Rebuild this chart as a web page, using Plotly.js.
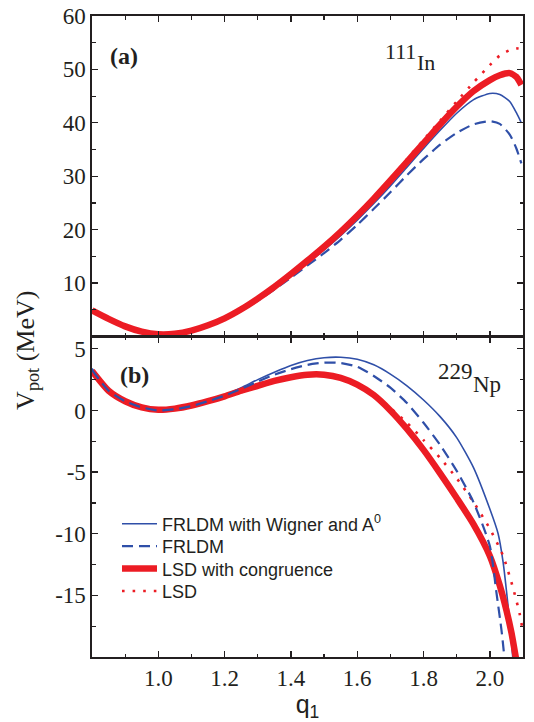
<!DOCTYPE html>
<html>
<head>
<meta charset="utf-8">
<script src="https://cdn.plot.ly/plotly-3.0.1.min.js"></script>
<style>html,body{margin:0;padding:0;background:#fff;}#chart{width:534px;height:722px;}</style>
</head>
<body>
<div id="chart"></div>
<script>
// ---------- Panel (a): 111In ----------
const qA = [0.8,0.85,0.9,0.95,1.0,1.05,1.1,1.15,1.2,1.25,1.3,1.35,1.4,1.45,1.5,1.55,1.6,1.65,1.7,1.75,1.8,1.85,1.9,1.95,2.0,2.03,2.06,2.08,2.095];
const frldmWignerA = [4.9,3.3,1.9,0.9,0.4,0.5,1.1,2.0,3.3,4.9,6.9,9.0,11.3,13.7,16.2,18.9,21.8,24.9,28.2,31.7,35.2,38.6,41.8,44.3,45.5,45.3,44.0,41.9,40.0];
const frldmA       = [4.9,3.3,1.9,0.9,0.4,0.5,1.1,2.0,3.2,4.8,6.7,8.8,11.0,13.3,15.6,18.1,20.9,23.9,27.0,30.2,33.2,35.9,38.1,39.7,40.3,39.8,37.8,35.2,32.4];
const lsdCongA     = [4.9,3.3,1.9,0.9,0.4,0.5,1.1,2.1,3.4,5.1,7.1,9.3,11.7,14.2,16.8,19.6,22.6,25.8,29.2,32.7,36.2,39.7,43.0,45.9,48.0,48.9,49.3,48.6,47.1];
const lsdA         = [4.9,3.3,1.9,0.9,0.4,0.5,1.1,2.1,3.4,5.1,7.1,9.3,11.7,14.2,16.8,19.6,22.6,25.8,29.5,33.2,36.8,40.4,44.0,47.5,50.8,52.6,53.6,53.9,54.0];

// ---------- Panel (b): 229Np ----------
const qWignerB = [0.8,0.85,0.9,0.95,1.0,1.05,1.1,1.15,1.2,1.25,1.3,1.35,1.4,1.45,1.5,1.55,1.6,1.65,1.7,1.75,1.8,1.85,1.9,1.95,2.0,2.025,2.04,2.05,2.06,2.07];
const frldmWignerB = [3.4,1.7,0.8,0.25,0.0,0.1,0.35,0.75,1.25,1.85,2.5,3.1,3.65,4.05,4.28,4.32,4.15,3.7,2.95,2.0,0.85,-0.5,-2.2,-4.6,-8.0,-10.0,-12.3,-14.6,-17.2,-20.3];
const qFrldmB = [0.8,0.85,0.9,0.95,1.0,1.05,1.1,1.15,1.2,1.25,1.3,1.35,1.4,1.45,1.5,1.55,1.6,1.65,1.7,1.75,1.8,1.85,1.9,1.95,2.0,2.02,2.035,2.045];
const frldmB = [3.3,1.6,0.75,0.25,0.0,0.1,0.35,0.75,1.2,1.75,2.35,2.9,3.35,3.7,3.88,3.85,3.55,2.8,1.85,0.6,-1.0,-2.8,-4.9,-7.4,-11.0,-14.8,-17.8,-20.3];
const qCongB = [0.8,0.85,0.9,0.95,1.0,1.05,1.1,1.15,1.2,1.25,1.3,1.35,1.4,1.45,1.5,1.55,1.6,1.65,1.7,1.75,1.8,1.85,1.9,1.95,2.0,2.03,2.05,2.065,2.08];
const lsdCongB = [3.2,1.6,0.75,0.25,0.05,0.15,0.4,0.75,1.15,1.6,2.0,2.4,2.7,2.9,2.9,2.65,2.1,1.25,0.0,-1.5,-3.2,-5.1,-7.1,-9.2,-11.8,-14.2,-16.2,-18.0,-20.3];
const qLsdB = [0.8,0.85,0.9,0.95,1.0,1.05,1.1,1.15,1.2,1.25,1.3,1.35,1.4,1.45,1.5,1.55,1.6,1.65,1.7,1.75,1.8,1.85,1.9,1.95,2.0,2.04,2.07,2.09,2.1];
const lsdB = [3.2,1.6,0.75,0.25,0.05,0.15,0.4,0.75,1.15,1.6,2.0,2.4,2.7,2.9,2.9,2.65,2.1,1.3,0.2,-1.0,-2.4,-3.85,-5.5,-7.4,-9.6,-11.8,-14.4,-16.5,-18.0];

// ---------- Labels ----------
const seriesNames = ['FRLDM with Wigner and A<sup>0</sup>', 'FRLDM', 'LSD with congruence', 'LSD'];
const xTickVals = [1.0,1.2,1.4,1.6,1.8,2.0];
const xTickText = ['1.0','1.2','1.4','1.6','1.8','2.0'];
const yTickValsA = [10,20,30,40,50,60];
const yTickValsB = [-15,-10,-5,0,5];
const yTickTextB = ['-15','-10','-5','0','5'];

const BLUE = '#2f4fa8';
const RED = '#ec1c24';
const styles = [
  {color: BLUE, width: 1.6, dash: 'solid'},
  {color: BLUE, width: 2.2, dash: '11px,6px'},
  {color: RED, width: 6.5, dash: 'solid'},
  {color: RED, width: 2.6, dash: '2.6px,8px'}
];
const legendIds = ['legend', 'legend2', 'legend3', 'legend4'];

function tr(x, y, i, xa, ya, show) {
  return {
    x: x, y: y, type: 'scatter', mode: 'lines', name: seriesNames[i],
    xaxis: xa, yaxis: ya, showlegend: show, legend: legendIds[i],
    line: {color: styles[i].color, width: styles[i].width, dash: styles[i].dash, shape: 'spline', smoothing: 0.6},
    hoverinfo: 'skip'
  };
}

const data = [
  tr(qA, frldmWignerA, 0, 'x', 'y', false),
  tr(qA, frldmA, 1, 'x', 'y', false),
  tr(qA, lsdA, 3, 'x', 'y', false),
  tr(qA, lsdCongA, 2, 'x', 'y', false),
  tr(qWignerB, frldmWignerB, 0, 'x2', 'y2', true),
  tr(qCongB, lsdCongB, 2, 'x2', 'y2', true),
  tr(qLsdB, lsdB, 3, 'x2', 'y2', true),
  tr(qFrldmB, frldmB, 1, 'x2', 'y2', true)
];

const serif = 'Liberation Serif, Times New Roman, serif';
const sans = 'Liberation Sans, Arial, sans-serif';
const ink = '#231f20';

function axisBase(minorDtick) {
  return {
    showline: true, linecolor: ink, linewidth: 1.6, mirror: 'ticks',
    ticks: 'inside', ticklen: 6, tickwidth: 1.3, tickcolor: ink,
    showgrid: false, zeroline: false,
    tickfont: {family: serif, size: 23, color: ink},
    minor: {ticks: 'inside', ticklen: 3.5, tickwidth: 1.2, tickcolor: ink, dtick: minorDtick, tick0: 0, showgrid: false}
  };
}

function label(text, x, y, xanchor, size) {
  return {text: text, xref: 'paper', yref: 'paper', x: x, y: y, xanchor: xanchor, yanchor: 'middle',
          showarrow: false, borderpad: 0, borderwidth: 0, font: {family: serif, size: size, color: ink}};
}

function legendAt(y) {
  return {x: 0.058, xanchor: 'left', y: y, yanchor: 'middle',
          font: {family: sans, size: 18, color: ink}, bgcolor: 'rgba(0,0,0,0)',
          borderwidth: 0, itemwidth: 35};
}

const layout = {
  width: 534, height: 722,
  margin: {l: 92, r: 11, t: 16, b: 65},
  paper_bgcolor: '#fff', plot_bgcolor: '#fff',
  showlegend: true,
  legend: legendAt(0.2075),
  legend2: legendAt(0.1725),
  legend3: legendAt(0.1375),
  legend4: legendAt(0.1025),
  xaxis: Object.assign(axisBase(0.1), {domain: [0, 1], anchor: 'y', range: [0.8, 2.1],
           tickmode: 'array', tickvals: xTickVals, ticktext: xTickText, showticklabels: false}),
  yaxis: Object.assign(axisBase(5), {domain: [0.5, 1], anchor: 'x', range: [0, 60],
           tickmode: 'array', tickvals: yTickValsA}),
  xaxis2: Object.assign(axisBase(0.1), {domain: [0, 1], anchor: 'y2', range: [0.8, 2.1],
           tickmode: 'array', tickvals: xTickVals, ticktext: xTickText,
           title: {text: 'q<sub>1</sub>', font: {family: sans, size: 25, color: ink}, standoff: 8}}),
  yaxis2: Object.assign(axisBase(2.5), {domain: [0, 0.5], anchor: 'x2', range: [-20, 6],
           tickmode: 'array', tickvals: yTickValsB, ticktext: yTickTextB}),
  annotations: [
    Object.assign(label('V<sub>pot</sub> (MeV)', -0.151, 0.479, 'center', 26), {textangle: -90}),
    label('<b>(a)</b>', 0.074, 0.9376, 'center', 24),
    label('<b>(b)</b>', 0.0975, 0.44, 'center', 24),
    label('111', 0.752, 0.944, 'right', 22),
    label('In', 0.753, 0.928, 'left', 22),
    label('229', 0.884, 0.446, 'right', 23),
    label('Np', 0.885, 0.425, 'left', 23)
  ]
};

Plotly.newPlot('chart', data, layout, {displayModeBar: false, staticPlot: true});
</script>
</body>
</html>
